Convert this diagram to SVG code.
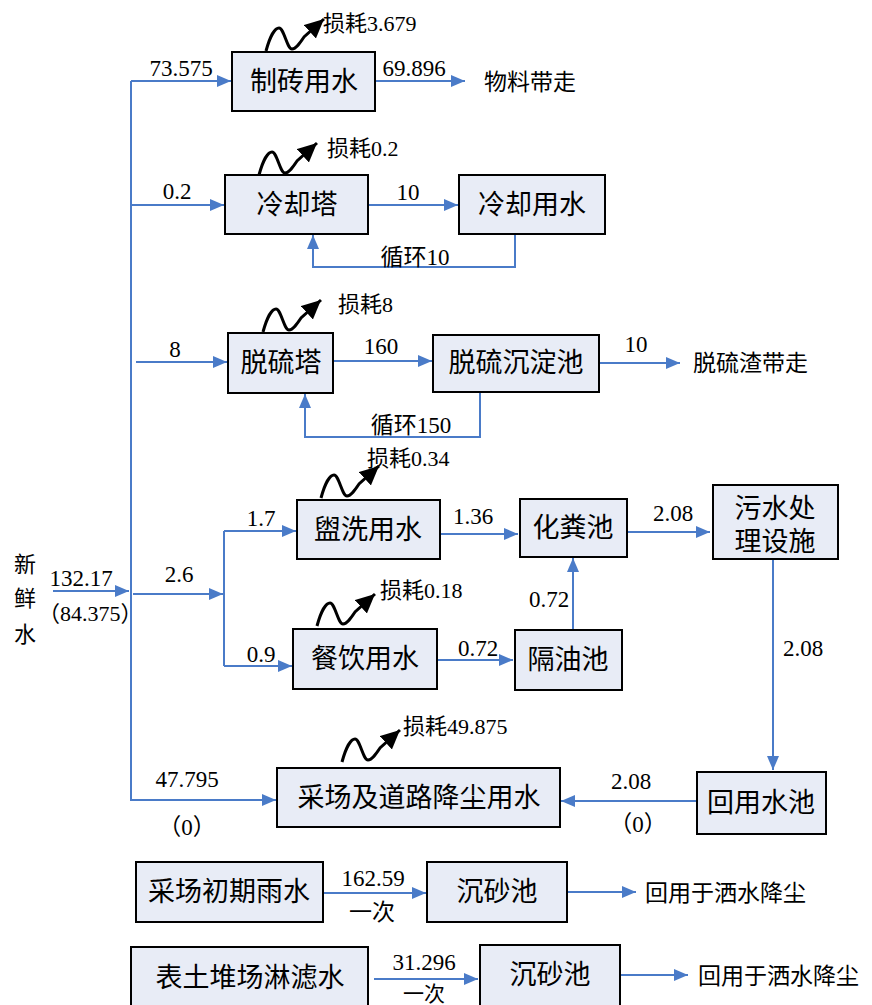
<svg xmlns="http://www.w3.org/2000/svg" width="872" height="1005" viewBox="0 0 872 1005">
<defs>
<style>
.box{fill:#E8ECF6;stroke:#000;stroke-width:2}
.bt{font-family:"Liberation Serif","Noto Sans CJK SC",serif;font-size:27px;fill:#000;text-anchor:middle}
.lb{font-family:"Liberation Serif","Noto Sans CJK SC",serif;font-size:23px;fill:#000;text-anchor:middle}
.ls{font-family:"Liberation Serif","Noto Sans CJK SC",serif;font-size:22px;fill:#000}
.cn{fill:none;stroke:#4A7BC8;stroke-width:2}
.ar{marker-end:url(#ah)}
.wv{fill:none;stroke:#000;stroke-width:3;marker-end:url(#bh)}
</style>
<marker id="ah" markerUnits="userSpaceOnUse" markerWidth="16" markerHeight="14" refX="14" refY="6" orient="auto"><path d="M0,0 L14,6 L0,12 z" fill="#4A7BC8"/></marker>
<marker id="bh" markerUnits="userSpaceOnUse" markerWidth="22" markerHeight="20" refX="19" refY="9" orient="auto"><path d="M0,0 L19,9 L0,18 z" fill="#000"/></marker>
<path id="wave" d="M0,0 C4,-15 9,-23 13,-23 C18,-23 21,-2 26,-2 C30,-2 34,-8 38,-14 L58,-32"/>
</defs>
<g id="connectors">
<path class="cn ar" d="M131,81 H231"/>
<path class="cn ar" d="M131,81 V800 H276"/>
<path class="cn ar" d="M131,205 H224"/>
<path class="cn ar" d="M136,362 H227"/>
<path class="cn ar" d="M53,591 H129"/>
<path class="cn ar" d="M133,594 H223"/>
<path class="cn" d="M224,531 V666"/>
<path class="cn ar" d="M224,531 H296"/>
<path class="cn ar" d="M224,666 H292"/>
<path class="cn ar" d="M375,81 H465"/>
<path class="cn ar" d="M368,205 H458"/>
<path class="cn ar" d="M515,234 V267 H313 V235"/>
<path class="cn ar" d="M333,361 H432"/>
<path class="cn ar" d="M599,363 H680"/>
<path class="cn ar" d="M480,392 V437 H305 V394"/>
<path class="cn ar" d="M440,534 H518"/>
<path class="cn ar" d="M627,532 H710"/>
<path class="cn ar" d="M437,660 H513"/>
<path class="cn ar" d="M573,630 V558"/>
<path class="cn ar" d="M773,559 V770"/>
<path class="cn ar" d="M697,801 H561"/>
<path class="cn ar" d="M323,893 H426"/>
<path class="cn ar" d="M567,892 H636"/>
<path class="cn ar" d="M374,979 H478"/>
<path class="cn ar" d="M620,975 H688"/>
</g>
<g id="losses">
<use href="#wave" class="wv" x="266" y="51"/>
<use href="#wave" class="wv" x="259" y="175"/>
<use href="#wave" class="wv" x="263" y="332"/>
<use href="#wave" class="wv" x="321" y="498"/>
<use href="#wave" class="wv" x="317" y="626"/>
<use href="#wave" class="wv" x="342" y="762"/>
</g>
<g id="n1"><rect class="box" x="232" y="52" width="143" height="59"/><text class="bt" x="304" y="91">制砖用水</text></g>
<g id="n2"><rect class="box" x="225" y="175" width="143" height="59"/><text class="bt" x="297" y="214">冷却塔</text></g>
<g id="n3"><rect class="box" x="459" y="175" width="146" height="59"/><text class="bt" x="532" y="214">冷却用水</text></g>
<g id="n4"><rect class="box" x="228" y="333" width="105" height="60"/><text class="bt" x="281" y="372">脱硫塔</text></g>
<g id="n5"><rect class="box" x="433" y="335" width="166" height="57"/><text class="bt" x="516" y="372">脱硫沉淀池</text></g>
<g id="n6"><rect class="box" x="297" y="500" width="143" height="59"/><text class="bt" x="368" y="539">盥洗用水</text></g>
<g id="n7"><rect class="box" x="520" y="499" width="107" height="58"/><text class="bt" x="573" y="537">化粪池</text></g>
<g id="n8"><rect class="box" x="713" y="485" width="125" height="74"/><text class="bt" x="775" y="518">污水处</text><text class="bt" x="775" y="551">理设施</text></g>
<g id="n9"><rect class="box" x="293" y="629" width="144" height="60"/><text class="bt" x="365" y="668">餐饮用水</text></g>
<g id="n10"><rect class="box" x="515" y="630" width="107" height="60"/><text class="bt" x="568" y="669">隔油池</text></g>
<g id="n11"><rect class="box" x="277" y="768" width="283" height="59"/><text class="bt" x="419" y="807">采场及道路降尘用水</text></g>
<g id="n12"><rect class="box" x="697" y="772" width="129" height="62"/><text class="bt" x="761" y="812">回用水池</text></g>
<g id="n13"><rect class="box" x="136" y="862" width="187" height="60"/><text class="bt" x="229" y="901">采场初期雨水</text></g>
<g id="n14"><rect class="box" x="427" y="862" width="140" height="60"/><text class="bt" x="497" y="901">沉砂池</text></g>
<g id="n15"><rect class="box" x="131" y="947" width="237" height="65"/><text class="bt" x="250" y="987">表土堆场淋滤水</text></g>
<g id="n16"><rect class="box" x="480" y="945" width="140" height="65"/><text class="bt" x="550" y="984">沉砂池</text></g>
<g id="labels">
<text class="lb" x="181" y="76">73.575</text>
<text class="lb" x="414" y="76">69.896</text>
<text class="ls" x="484" y="90" style="font-size:23px">物料带走</text>
<text class="ls" x="323" y="31">损耗3.679</text>
<text class="lb" x="177" y="199">0.2</text>
<text class="lb" x="408" y="200">10</text>
<text class="lb" x="415" y="265">循环10</text>
<text class="ls" x="327" y="156">损耗0.2</text>
<text class="lb" x="175" y="357">8</text>
<text class="lb" x="381" y="354">160</text>
<text class="lb" x="636" y="352">10</text>
<text class="ls" x="693" y="371" style="font-size:23px">脱硫渣带走</text>
<text class="lb" x="411" y="433">循环150</text>
<text class="ls" x="338" y="312">损耗8</text>
<text class="lb" x="261" y="526">1.7</text>
<text class="lb" x="473" y="524">1.36</text>
<text class="lb" x="673" y="521">2.08</text>
<text class="lb" x="179" y="582">2.6</text>
<text class="lb" x="261" y="662">0.9</text>
<text class="lb" x="478" y="656">0.72</text>
<text class="lb" x="549" y="607">0.72</text>
<text class="lb" x="803" y="656">2.08</text>
<text class="ls" x="367" y="466">损耗0.34</text>
<text class="ls" x="380" y="598">损耗0.18</text>
<text class="lb" x="187" y="787">47.795</text>
<text class="lb" x="187" y="835">（0）</text>
<text class="lb" x="631" y="789">2.08</text>
<text class="lb" x="638" y="832">（0）</text>
<text class="ls" x="403" y="734">损耗49.875</text>
<text class="ls" x="14" y="572">新</text>
<text class="ls" x="14" y="606">鲜</text>
<text class="ls" x="14" y="642">水</text>
<text class="lb" x="81" y="586">132.17</text>
<text class="ls" x="38" y="621">（84.375）</text>
<text class="lb" x="373" y="886">162.59</text>
<text class="lb" x="372" y="920">一次</text>
<text class="lb" x="424" y="970">31.296</text>
<text class="lb" x="424" y="1001" style="font-size:21px">一次</text>
<text class="ls" x="645" y="901" style="font-size:23px">回用于洒水降尘</text>
<text class="ls" x="698" y="984" style="font-size:23px">回用于洒水降尘</text>
</g>
</svg>
